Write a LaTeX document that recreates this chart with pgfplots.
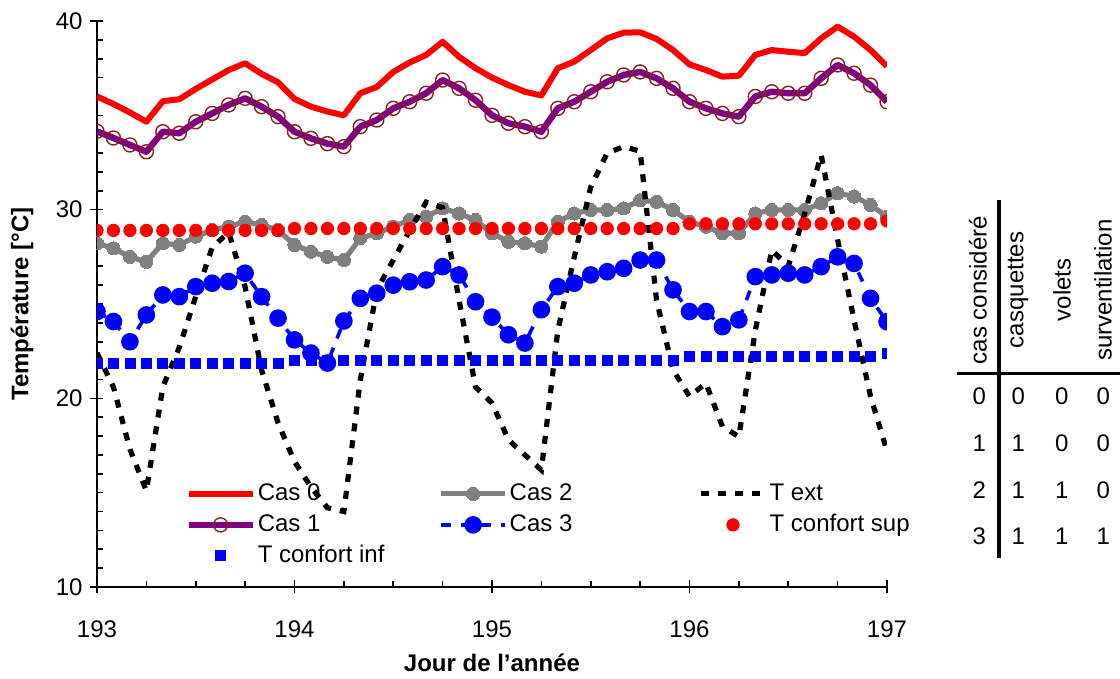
\documentclass[border=0pt]{standalone}
\usepackage{fontspec}
\setmainfont{Liberation Sans}
\usepackage{pgfplots}
\usepackage{pgfplotstable}
\pgfplotsset{compat=1.18}

\definecolor{cas0}{RGB}{255,0,0}
\definecolor{cas1}{RGB}{128,0,128}
\definecolor{cas1m}{RGB}{140,30,30}
\definecolor{cas2}{RGB}{128,128,128}
\definecolor{cas3}{RGB}{0,0,255}

% temperatures toutes les 2 heures
\pgfplotstableread{
day      T0    T1    T2    T3    Text  Tsup  Tinf
193.0000 36.00 34.15 28.22 24.60 22.40 28.90 21.85
193.0833 35.60 33.80 27.95 24.07 20.60 28.90 21.85
193.1667 35.15 33.43 27.50 23.00 17.30 28.90 21.85
193.2500 34.66 33.07 27.24 24.42 15.10 28.90 21.85
193.3333 35.75 34.13 28.22 25.48 20.60 28.90 21.85
193.4167 35.85 34.05 28.13 25.39 22.70 28.90 21.85
193.5000 36.40 34.66 28.57 25.92 25.40 28.90 21.85
193.5833 36.90 35.10 28.92 26.10 28.00 28.90 21.85
193.6667 37.40 35.55 29.10 26.19 28.80 28.90 21.85
193.7500 37.76 35.90 29.36 26.63 25.90 28.90 21.85
193.8333 37.20 35.46 29.19 25.39 21.50 28.90 21.85
193.9167 36.75 34.93 28.92 24.25 18.70 28.90 21.85
194.0000 35.87 34.13 28.13 23.10 16.65 29.00 22.00
194.0833 35.46 33.78 27.77 22.40 15.30 29.00 22.00
194.1667 35.20 33.50 27.50 21.87 14.20 29.00 22.00
194.2500 35.00 33.34 27.33 24.10 14.00 29.00 22.00
194.3333 36.17 34.40 28.48 25.30 20.98 29.00 22.00
194.4167 36.50 34.75 28.75 25.57 25.74 29.00 22.00
194.5000 37.30 35.37 29.10 26.00 27.33 29.00 22.00
194.5833 37.80 35.72 29.45 26.18 28.90 29.00 22.00
194.6667 38.20 36.17 29.63 26.27 30.40 29.00 22.00
194.7500 38.90 36.87 30.07 26.98 30.10 29.00 22.00
194.8333 38.10 36.43 29.80 26.54 25.20 29.00 22.00
194.9167 37.50 35.80 29.45 25.12 20.60 29.00 22.00
195.0000 37.00 35.00 28.75 24.30 19.75 29.00 22.00
195.0833 36.60 34.58 28.30 23.37 17.80 29.00 22.00
195.1667 36.25 34.40 28.22 22.93 17.00 29.00 22.00
195.2500 36.05 34.13 28.04 24.70 16.20 29.00 22.00
195.3333 37.50 35.37 29.36 25.92 23.60 29.00 22.00
195.4167 37.85 35.72 29.80 26.10 27.50 29.00 22.00
195.5000 38.46 36.25 29.98 26.54 31.20 29.00 22.00
195.5833 39.08 36.78 29.98 26.71 33.00 29.00 22.00
195.6667 39.38 37.14 30.07 26.89 33.34 29.00 22.00
195.7500 39.40 37.30 30.50 27.33 33.10 29.00 22.00
195.8333 39.05 36.96 30.42 27.33 25.20 29.00 22.00
195.9167 38.46 36.43 29.98 25.75 21.50 29.00 22.00
196.0000 37.70 35.72 29.36 24.60 20.10 29.25 22.20
196.0833 37.40 35.37 29.10 24.60 20.80 29.25 22.20
196.1667 37.05 35.10 28.75 23.80 18.50 29.25 22.20
196.2500 37.10 34.93 28.75 24.16 17.97 29.25 22.20
196.3333 38.20 36.00 29.80 26.45 23.60 29.25 22.20
196.4167 38.46 36.25 29.98 26.54 27.86 29.25 22.20
196.5000 38.37 36.17 29.98 26.63 27.00 29.25 22.20
196.5833 38.30 36.17 29.98 26.54 29.80 29.25 22.20
196.6667 39.08 36.96 30.34 26.98 32.90 29.25 22.20
196.7500 39.70 37.67 30.87 27.50 28.40 29.25 22.20
196.8333 39.17 37.23 30.70 27.15 24.15 29.25 22.20
196.9167 38.46 36.60 30.25 25.30 20.10 29.25 22.20
197.0000 37.60 35.72 29.63 24.06 17.20 29.40 22.40
}\temps

\begin{document}
\fontsize{12}{14}\selectfont
\begin{tikzpicture}
\begin{axis}[
  scale only axis, width=395pt, height=283pt,
  xmin=193, xmax=197, ymin=10, ymax=40,
  axis lines=left, axis line style={-, line width=0.8pt},
  xtick={193,194,195,196,197}, ytick={10,20,30,40},
  minor x tick num=3, minor y tick num=9,
  tick align=inside, major tick length=6.5pt, minor tick length=3pt,
  tick style={black, line width=0.8pt},
  major x tick style={yshift=-3.25pt},
  major y tick style={xshift=-3.25pt},
  /pgf/number format/assume math mode=true,
  xticklabel style={yshift=-12.5pt},
  yticklabel style={xshift=-3pt},
  xlabel={\bfseries Jour de l'année},
  ylabel={\bfseries Température [°C]},
  xlabel style={at={(axis description cs:0.5,-0.134)}, anchor=center},
  ylabel style={at={(axis description cs:-0.095,0.5)}, anchor=center},
  clip marker paths=true,
  legend columns=3,
  legend cell align=left,
  legend style={at={(0.1114,0.1926)}, anchor=north west, draw=none, fill=none,
    inner sep=0pt, row sep=0pt,
    nodes={inner sep=1pt, text height=10pt, text depth=3.5pt},
    /tikz/column 2/.style={column sep=26pt},
    /tikz/column 4/.style={column sep=62pt}},
  legend image code/.code={\draw[mark repeat=2,mark phase=2,#1] plot coordinates {(0pt,0pt) (16pt,0pt) (32pt,0pt)};},
]
\addplot[cas0, line width=3pt, line join=round, no marks] table[x=day,y=T0]{\temps};
\addlegendentry{Cas 0}
\addplot[cas2, line width=2.6pt, line join=round, mark=*, mark size=3.3pt,
  mark options={fill=cas2, draw=cas2, line width=0pt}] table[x=day,y=T2]{\temps};
\addlegendentry{Cas 2}
\addplot[black, line width=2.6pt, dash pattern=on 4pt off 4.5pt, no marks] table[x=day,y=Text]{\temps};
\addlegendentry{T ext}
\addplot[cas1, line width=3.2pt, line join=round, mark=o, mark size=3.5pt,
  mark options={draw=cas1m, line width=0.7pt, solid}] table[x=day,y=T1]{\temps};
\addlegendentry{Cas 1}
\addplot[cas3, line width=1.8pt, dash pattern=on 5pt off 5pt, mark=*, mark size=3.5pt,
  mark options={solid, fill=cas3, draw=cas3}] table[x=day,y=T3]{\temps};
\addlegendentry{Cas 3}
\addplot[only marks, mark=*, mark size=3.1pt, cas0, mark options={fill=cas0}] table[x=day,y=Tsup]{\temps};
\addlegendentry{T confort sup}
\addplot[only marks, mark=square*, mark size=2.5pt, cas3, mark options={fill=cas3}] table[x=day,y=Tinf]{\temps};
\addlegendentry{T confort inf}
\coordinate (sw) at (rel axis cs:0,0);
\end{axis}
\pgfresetboundingbox
\path[use as bounding box] ([shift={(-48.5pt,-46pt)}]sw) rectangle ([shift={(511.5pt,293.5pt)}]sw);
% tableau des cas
\begin{scope}[shift={(sw)}]
  \draw[line width=1.6pt] (451pt,193.5pt) -- (451pt,14.5pt);
  \draw[line width=1.6pt] (430pt,106.85pt) -- (511.5pt,106.85pt);
  \node[rotate=90] at (440.5pt,148.5pt) {cas considéré};
  \node[rotate=90] at (460.5pt,148.5pt) {casquettes};
  \node[rotate=90] at (482.5pt,148.5pt) {volets};
  \node[rotate=90] at (503pt,148.5pt) {surventilation};
  \foreach \y/\a/\b/\c/\d in {95.15/0/0/0/0, 71.85/1/1/0/0, 48.5/2/1/1/0, 25.15/3/1/1/1} {
    \node at (441.15pt,\y pt) {\a};
    \node at (460.65pt,\y pt) {\b};
    \node at (482.35pt,\y pt) {\c};
    \node at (503.15pt,\y pt) {\d};
  }
\end{scope}
\end{tikzpicture}
\end{document}
